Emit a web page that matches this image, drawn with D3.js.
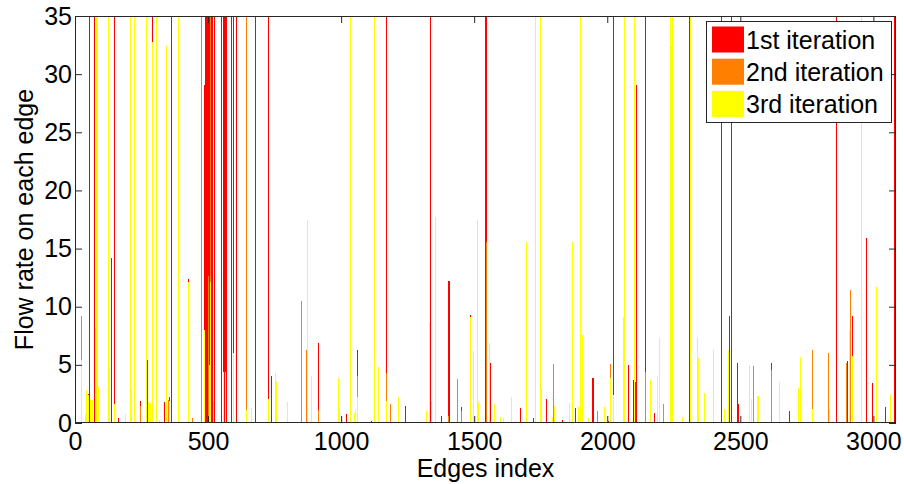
<!DOCTYPE html>
<html><head><meta charset="utf-8">
<script src="https://cdn.jsdelivr.net/npm/d3@7"></script>
<style>
html,body{margin:0;padding:0;background:#fff;}
svg{display:block;font-family:"Liberation Sans",Arial,Helvetica,sans-serif;}
</style></head>
<body><svg id="c" width="904" height="484"></svg>
<script>
// ---- data ----
const edgeCount = 3085;
const xTickValues = [0, 500, 1000, 1500, 2000, 2500, 3000];
const yTickValues = [0, 5, 10, 15, 20, 25, 30, 35];
const seriesNames = ["1st iteration", "2nd iteration", "3rd iteration"];
const seriesColors = ["#FF0000", "#FF8000", "#FFFF00"];
// [edge index, flow rate]; values above 35 run off the top of the axes
const iter1 = [[1,1.2],[49,2.5],[54,40],[75,40],[136,14.2],[148,40],[164,0.4],[245,1.9],[274,5.4],[292,40],[336,1.8],[356,2.2],[363,40],[427,12.4],[486,29.1],[490,40],[492,11.3],[495,40],[498,40],[501,40],[504,40],[512,40],[516,40],[524,40],[549,40],[557,40],[561,40],[565,40],[569,40],[589,40],[595,40],[607,40],[679,40],[726,40],[739,4.0],[915,6.9],[1021,0.8],[1061,6.3],[1114,0.2],[1170,40],[1243,1.5],[1334,40],[1379,0.6],[1405,12.2],[1407,12.2],[1452,1.4],[1487,9.3],[1541,40],[1544,40],[1547,40],[1562,5.2],[1675,1.3],[1724,0.4],[1770,2.1],[1833,0.3],[1879,1.3],[1946,3.9],[1948,3.9],[2006,0.2],[2023,40],[2079,5.0],[2100,3.7],[2106,3.5],[2111,29.1],[2142,40],[2145,40],[2178,0.9],[2310,40],[2428,40],[2460,9.2],[2465,40],[2489,5.2],[2492,1.6],[2619,5.2],[2684,1.0],[2860,40],[2902,5.3],[2920,9.2],[2974,15.9],[2995,3.4],[3045,1.4],[3079,40]];
const iter2 = [[24,9.2],[245,1.5],[352,2.0],[425,2.2],[440,0.4],[474,40],[500,12.6],[508,40],[645,40],[852,10.5],[871,6.3],[915,1.1],[1061,4.0],[1170,4.3],[1186,1.6],[1405,0.6],[1439,3.8],[1452,1.0],[1546,15.6],[1557,3.9],[1799,5.1],[1964,1.0],[2014,5.1],[2142,4.4],[2213,1.6],[2549,4.9],[2619,4.6],[2770,6.3],[2832,6.0],[2900,5.2],[2913,11.4]];
const iter3 = [[24,5.4],[38,0.8],[42,2.8],[45,2.5],[52,2.4],[58,2.0],[63,2.0],[67,2.0],[77,8.2],[80,40],[83,40],[86,40],[89,3.1],[126,40],[128,4.7],[150,1.6],[189,0.8],[207,40],[210,40],[212,2.8],[224,40],[267,40],[270,1.8],[276,1.8],[280,1.8],[284,1.7],[292,32.8],[308,40],[318,0.3],[342,32.4],[346,1.6],[354,1.9],[388,40],[390,2.5],[427,12.1],[487,8.0],[504,5.0],[508,12.1],[520,1.9],[557,4.4],[565,4.4],[595,6.0],[645,1.1],[664,1.3],[726,2.1],[752,4.3],[756,3.5],[798,1.8],[874,17.5],[889,4.0],[990,3.9],[993,1.3],[1034,40],[1052,0.9],[1055,1.2],[1061,2.2],[1124,40],[1127,40],[1139,4.8],[1170,1.9],[1216,2.2],[1320,1.0],[1333,8.6],[1338,1.9],[1354,17.7],[1487,9.1],[1499,6.2],[1514,17.5],[1518,1.8],[1559,6.9],[1576,1.6],[1600,0.5],[1610,0.4],[1642,2.2],[1696,15.6],[1731,40],[1750,40],[1752,3.1],[1793,0.5],[1800,1.5],[1858,1.7],[1868,15.6],[1892,1.4],[1899,40],[1901,40],[1908,7.6],[1930,0.4],[1989,1.4],[2014,3.9],[2024,2.4],[2060,9.1],[2064,40],[2104,40],[2163,3.7],[2188,4.0],[2195,7.3],[2238,40],[2242,32.4],[2246,40],[2282,0.5],[2314,40],[2339,7.3],[2341,5.6],[2364,2.6],[2399,6.3],[2401,2.7],[2439,1.2],[2455,6.3],[2533,5.0],[2543,2.1],[2564,2.2],[2566,2.3],[2570,2.3],[2647,3.5],[2718,3.0],[2726,5.7],[2773,1.2],[2834,1.2],[2912,8.0],[2920,5.8],[2956,40],[3011,11.7],[3064,2.4]];
const seriesData = [iter1, iter2, iter3];

// ---- layout ----
const svg = d3.select("#c");
const L = 75, R = 896, T = 16, B = 423;
const FS = 25;
const x = d3.scaleLinear().domain([0, edgeCount]).range([L, R]);
const y = d3.scaleLinear().domain([0, 35]).range([B, T]);

svg.append("defs").append("clipPath").attr("id", "plot")
  .append("rect").attr("x", L).attr("y", T).attr("width", R - L).attr("height", B - T);

const bars = svg.append("g").attr("clip-path", "url(#plot)").attr("shape-rendering", "crispEdges");
seriesData.forEach((data, s) => {
  bars.append("g").attr("fill", seriesColors[s])
    .selectAll("rect").data(data).join("rect")
    .attr("x", d => Math.floor(x(d[0])))
    .attr("width", 1)
    .attr("y", d => y(Math.min(d[1], 36)))
    .attr("height", d => B - y(Math.min(d[1], 36)));
});

// ---- axes ----
const axColor = "#262626";
const fmt = d3.format("d");
const gx = svg.append("g").attr("transform", `translate(0,${B})`)
  .call(d3.axisBottom(x).tickValues(xTickValues).tickFormat(fmt).tickSizeInner(-7).tickSizeOuter(0).tickPadding(9));
const gy = svg.append("g").attr("transform", `translate(${L},0)`)
  .call(d3.axisLeft(y).tickValues(yTickValues).tickFormat(fmt).tickSizeInner(-7).tickSizeOuter(0).tickPadding(3));
const gxt = svg.append("g").attr("transform", `translate(0,${T})`)
  .call(d3.axisTop(x).tickValues(xTickValues).tickSizeInner(-7).tickSizeOuter(0).tickFormat(""));
const gyr = svg.append("g").attr("transform", `translate(${R},0)`)
  .call(d3.axisRight(y).tickValues(yTickValues).tickSizeInner(-7).tickSizeOuter(0).tickFormat(""));
[gx, gy, gxt, gyr].forEach(g => {
  g.select(".domain").remove();
  g.selectAll("line").attr("stroke", axColor);
  g.selectAll("text").attr("font-size", FS).attr("fill", "#000")
    .attr("font-family", "'Liberation Sans', Arial, Helvetica, sans-serif");
});
svg.append("rect").attr("x", L + 0.5).attr("y", T + 0.5).attr("width", R - L - 1).attr("height", B - T - 1)
  .attr("fill", "none").attr("stroke", axColor).attr("stroke-width", 1);

// axis labels
svg.append("text").attr("x", (L + R) / 2).attr("y", 477).attr("text-anchor", "middle")
  .attr("font-size", FS).text("Edges index");
svg.append("text").attr("transform", `translate(33,${(T + B) / 2}) rotate(-90)`).attr("text-anchor", "middle")
  .attr("font-size", FS).text("Flow rate on each edge");

// ---- legend ----
const lg = svg.append("g");
lg.append("rect").attr("x", 706.5).attr("y", 21.5).attr("width", 185).attr("height", 101)
  .attr("fill", "#fff").attr("stroke", axColor);
seriesNames.forEach((n, i) => {
  const cy = 39.5 + i * 32.2;
  lg.append("rect").attr("x", 712).attr("y", cy - 13).attr("width", 32).attr("height", 26)
    .attr("fill", seriesColors[i]);
  lg.append("text").attr("x", 746).attr("y", cy + 9).attr("font-size", FS).text(n);
});
</script></body></html>
